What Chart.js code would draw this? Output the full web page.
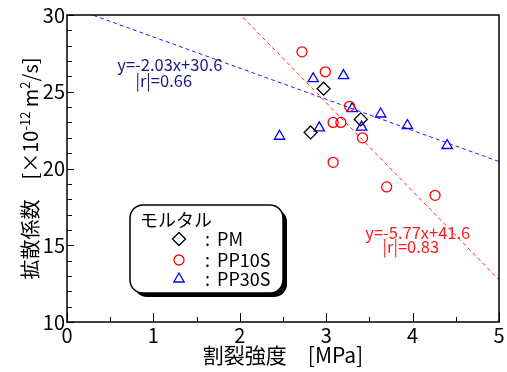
<!DOCTYPE html>
<html>
<head>
<meta charset="utf-8">
<script src="https://cdn.jsdelivr.net/npm/chart.js@4.4.1/dist/chart.umd.min.js"></script>
<style>
  html, body { margin: 0; padding: 0; background: #fff; }
  #wrap { width: 507px; height: 372px; }
</style>
</head>
<body>
<div id="wrap"><canvas id="scatterChart" width="507" height="372"></canvas></div>
<script>
// PM (plain mortar)
var pmX = [2.97, 3.40, 2.82];
var pmY = [25.2, 23.2, 22.35];
// PP10S
var pp10X = [2.72, 2.99, 3.27, 3.08, 3.17, 3.42, 3.08, 3.70, 4.26];
var pp10Y = [27.6, 26.3, 24.05, 23.0, 23.0, 22.0, 20.4, 18.8, 18.25];
// PP30S
var pp30X = [2.46, 2.85, 3.20, 2.92, 3.30, 3.41, 3.63, 3.94, 4.40];
var pp30Y = [22.1, 25.85, 26.05, 22.65, 23.9, 22.7, 23.55, 22.8, 21.5];
// regression lines (end points)
var fitX = [0, 5];
var fitBlueY = [30.6, 20.45];
var fitRedY = [41.6, 12.75];
var xTicks = [0, 1, 2, 3, 4, 5];
var yTicks = [10, 15, 20, 25, 30];
var legendTitle = 'モルタル';
var seriesNames = ['PM', 'PP10S', 'PP30S'];

var FONT = '"Noto Sans CJK JP", "Noto Sans", sans-serif';

function pts(xs, ys) {
    return xs.map(function (x, i) { return {x: x, y: ys[i]}; });
}

// ticks inside + frame + titles + annotations + legend box
var decoPlugin = {
    id: 'deco',
    afterDatasetsDraw: function (chart) {
        var ctx = chart.ctx, a = chart.chartArea;
        var xs = chart.scales.x, ys = chart.scales.y;
        ctx.save();
        ctx.strokeStyle = '#000';
        ctx.lineWidth = 1;
        ctx.beginPath();
        for (var v = 0; v <= 5.001; v += 0.5) {
            var px = Math.round(xs.getPixelForValue(v)) + 0.5;
            var len = (Math.abs(v - Math.round(v)) < 0.01) ? 9 : 5;
            ctx.moveTo(px, a.bottom);
            ctx.lineTo(px, a.bottom - len);
        }
        for (var w = 10; w <= 30; w += 1) {
            var py = Math.round(ys.getPixelForValue(w)) + 0.5;
            var l2 = (w % 5 === 0) ? 7 : 5;
            ctx.moveTo(a.left, py);
            ctx.lineTo(a.left + l2, py);
        }
        ctx.stroke();
        ctx.lineWidth = 1.5;
        ctx.strokeRect(a.left, a.top, a.right - a.left, a.bottom - a.top);

        // annotations
        ctx.textAlign = 'center';
        ctx.textBaseline = 'middle';
        ctx.font = '16.5px ' + FONT;
        ctx.fillStyle = '#1a1a80';
        ctx.fillText('y=-2.03x+30.6', xs.getPixelForValue(1.19), ys.getPixelForValue(26.75));
        ctx.fillText('|r|=0.66', xs.getPixelForValue(1.12), ys.getPixelForValue(25.7));
        ctx.fillStyle = '#ff1a1a';
        ctx.fillText('y=-5.77x+41.6', xs.getPixelForValue(4.06), ys.getPixelForValue(15.83));
        ctx.fillText('|r|=0.83', xs.getPixelForValue(3.98), ys.getPixelForValue(14.9));

        // x title
        ctx.fillStyle = '#000';
        ctx.font = '21px ' + FONT;
        ctx.fillText('割裂強度　[MPa]', (a.left + a.right) / 2, 355);

        // y title with superscripts
        var parts = [['拡散係数　[×10', 20, 0], ['-12', 13, -8], [' m', 20, 0], ['2', 13, -8], ['/s]', 20, 0]];
        ctx.translate(31, (a.top + a.bottom) / 2);
        ctx.rotate(-Math.PI / 2);
        var total = 0;
        parts.forEach(function (p) {
            ctx.font = p[1] + 'px ' + FONT;
            p.w = ctx.measureText(p[0]).width;
            total += p.w;
        });
        var cx = -total / 2;
        ctx.textAlign = 'left';
        ctx.textBaseline = 'alphabetic';
        parts.forEach(function (p) {
            ctx.font = p[1] + 'px ' + FONT;
            ctx.fillText(p[0], cx, 7 + p[2]);
            cx += p.w;
        });
        ctx.restore();

        // legend box
        ctx.save();
        var bx = 130, by = 205, bw = 153, bh = 88, r = 13;
        function rr(x, y) {
            ctx.beginPath();
            ctx.moveTo(x + r, y);
            ctx.arcTo(x + bw, y, x + bw, y + bh, r);
            ctx.arcTo(x + bw, y + bh, x, y + bh, r);
            ctx.arcTo(x, y + bh, x, y, r);
            ctx.arcTo(x, y, x + bw, y, r);
            ctx.closePath();
        }
        ctx.fillStyle = '#000';
        rr(bx + 4, by + 4);
        ctx.fill();
        ctx.fillStyle = '#fff';
        rr(bx, by);
        ctx.fill();
        ctx.lineWidth = 1.5;
        ctx.strokeStyle = '#000';
        ctx.stroke();
        ctx.fillStyle = '#000';
        ctx.textAlign = 'left';
        ctx.textBaseline = 'middle';
        ctx.font = '18px ' + FONT;
        ctx.fillText(legendTitle, 140, 220);
        var rowsY = [239, 260, 279];
        chart.data.datasets.slice(0, 3).forEach(function (ds, i) {
            ctx.strokeStyle = ds.borderColor;
            ctx.fillStyle = 'rgba(0,0,0,0)';
            ctx.lineWidth = ds.borderWidth;
            Chart.helpers.drawPoint(ctx, {pointStyle: ds.pointStyle, radius: ds.pointRadius, rotation: 0, borderWidth: ds.borderWidth}, 179, rowsY[i]);
            ctx.fillStyle = '#000';
            ctx.fillText(':', 205, rowsY[i]);
            ctx.fillText(seriesNames[i], 217, rowsY[i]);
        });
        ctx.restore();
    }
};

var markerBase = {backgroundColor: 'rgba(0,0,0,0)', pointBackgroundColor: 'rgba(0,0,0,0)', borderWidth: 1.3, showLine: false};

new Chart(document.getElementById('scatterChart').getContext('2d'), {
    type: 'scatter',
    data: {
        datasets: [
            Object.assign({label: seriesNames[0], data: pts(pmX, pmY), pointStyle: 'rectRot', pointRadius: 6.5, borderColor: '#000'}, markerBase),
            Object.assign({label: seriesNames[1], data: pts(pp10X, pp10Y), pointStyle: 'circle', pointRadius: 5, borderColor: '#ff0000'}, markerBase),
            Object.assign({label: seriesNames[2], data: pts(pp30X, pp30Y), pointStyle: 'triangle', pointRadius: 6, borderColor: '#0000ff'}, markerBase),
            {type: 'line', data: pts(fitX, fitBlueY), borderColor: '#2020ff', borderWidth: 1, borderDash: [4, 3], pointRadius: 0, fill: false},
            {type: 'line', data: pts(fitX, fitRedY), borderColor: '#ff2020', borderWidth: 1, borderDash: [4, 3], pointRadius: 0, fill: false}
        ]
    },
    options: {
        responsive: false,
        animation: false,
        layout: {padding: {left: 0, top: 15, right: 8, bottom: 0}},
        plugins: {legend: {display: false}, tooltip: {enabled: false}},
        scales: {
            x: {
                type: 'linear', min: 0, max: 5,
                grid: {display: false, drawTicks: false},
                border: {display: false},
                afterFit: function (s) { s.height = 50; },
                afterBuildTicks: function (s) { s.ticks = xTicks.map(function (v) { return {value: v}; }); },
                ticks: {font: {size: 20, family: FONT}, color: '#000', padding: 1, maxRotation: 0}
            },
            y: {
                type: 'linear', min: 10, max: 30,
                grid: {display: false, drawTicks: false},
                border: {display: false},
                afterFit: function (s) { s.width = 67; },
                afterBuildTicks: function (s) { s.ticks = yTicks.map(function (v) { return {value: v}; }); },
                ticks: {font: {size: 20, family: FONT}, color: '#000', padding: 2}
            }
        }
    },
    plugins: [decoPlugin]
});
</script>
</body>
</html>
